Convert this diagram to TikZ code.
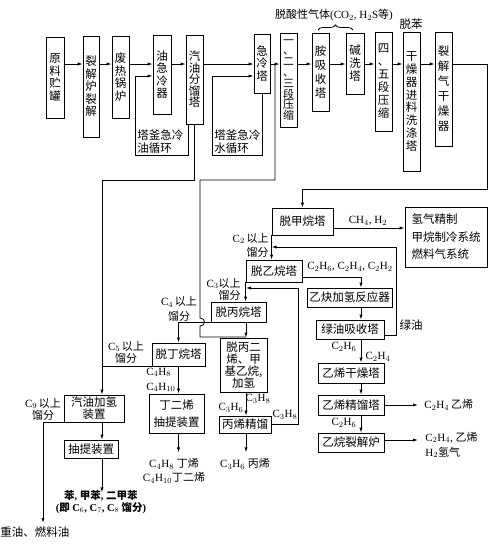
\documentclass[tikz,border=0pt]{standalone}
\usepackage{fontspec}
\setmainfont{Liberation Serif}
\newfontfamily\cjk{Noto Sans CJK SC}
\usetikzlibrary{arrows.meta,decorations.pathreplacing}
\newcommand\zh[1]{{\cjk #1}}
\begin{document}
\begin{tikzpicture}[x=1pt,y=-1pt,line width=0.8pt,
  every node/.style={inner sep=0pt, font=\cjk\fontsize{11.5}{12.5}\selectfont},
  box/.style={draw, align=center},
  lbl/.style={font=\fontsize{11}{12}\selectfont, align=center},
  arr/.style={-{Latex[length=5pt,width=3.2pt]}},
]
\fill[white] (0,0) rectangle (500,544);
\useasboundingbox (0,0) rectangle (500,544);

% coordinates
\coordinate (fl) at (0,64);
\coordinate (y76) at (0,76);
\coordinate (gx) at (102,0);
\coordinate (px) at (246,0);
\coordinate (ax) at (361,0);
\coordinate (br) at (275,64);

% top row
\node[box, minimum width=18, minimum height=81] (n1) at (55,77.5) {原\\料\\贮\\罐};
\node[box, minimum width=16, minimum height=101] (n2) at (91,86.5) {裂\\解\\炉\\裂\\解};
\node[box, minimum width=17, minimum height=82] (n3) at (120.5,77) {废\\热\\锅\\炉};
\node[box, minimum width=18, minimum height=79] (n4) at (162,74.5) {油\\急\\冷\\器};
\node[box, minimum width=17, minimum height=89, font=\cjk\fontsize{11.5}{11.5}\selectfont] (n5) at (194.5,79.5) {汽\\油\\分\\馏\\塔};
\node[box, minimum width=16, minimum height=59] (n6) at (262,63.5) {急\\冷\\塔};
\node[box, minimum width=17, minimum height=94, font=\cjk\fontsize{11}{10.8}\selectfont] (n7) at (288.5,80) {一\\、\\二\\、\\三\\段\\压\\缩};
\node[box, minimum width=17, minimum height=78, font=\cjk\fontsize{11.5}{14}\selectfont] (n8) at (320.5,72) {胺\\吸\\收\\塔};
\node[box, minimum width=18, minimum height=61, font=\cjk\fontsize{11.5}{13}\selectfont] (n9) at (355,63.5) {碱\\洗\\塔};
\node[box, minimum width=17, minimum height=99, font=\cjk\fontsize{11.5}{13}\selectfont] (n10) at (383.5,81.5) {四\\、\\五\\段\\压\\缩};
\node[box, minimum width=17, minimum height=139, font=\cjk\fontsize{11.5}{12.9}\selectfont] (n11) at (411.5,101.5) {干\\燥\\器\\进\\料\\洗\\涤\\塔};
\node[box, minimum width=17, minimum height=114, font=\cjk\fontsize{11.5}{15}\selectfont] (n12) at (443.5,89) {裂\\解\\气\\干\\燥\\器};

\foreach \a/\b in {n1/n2,n2/n3,n3/n4,n4/n5,n5/n6,n6/n7,n7/n8,n8/n9,n9/n10,n10/n11,n11/n12}
  \draw[arr] (\a.east |- fl) -- (\b.west |- fl);

% top labels
\node[lbl] (acid) at (334,15) {\zh{脱酸性气体}(CO$_2$, H$_2$S\zh{等})};
\draw[decorate, decoration={brace, amplitude=5pt}] (318,30) -- (353,30);
\node (dbz) at (411,24) {脱苯};

% loops
\draw[arr] ([xshift=-6.5]n5.south) |- (135,155) |- (n4.west |- y76);
\node[anchor=north west, align=left, font=\cjk\fontsize{11.5}{13}\selectfont] (oil) at (137,129) {塔釜急冷\\油循环};
\draw[arr] (n6.south) |- (212,155) |- (n6.west |- y76);
\node[anchor=north west, align=left, font=\cjk\fontsize{11.5}{13}\selectfont] (wat) at (214,129) {塔釜急冷\\水循环};

% lower boxes
\node[box, minimum width=61, minimum height=27] (m1) at (302.5,221.5) {脱甲烷塔};
\node[box, minimum width=82, minimum height=60, align=left, font=\cjk\fontsize{11.5}{17.5}\selectfont] (r1) at (446,237) {氢气精制\\甲烷制冷系统\\燃料气系统};
\node[box, minimum width=56, minimum height=22] (m2) at (274,271) {脱乙烷塔};
\node[box, minimum width=85, minimum height=19] (g1) at (349.5,297.5) {乙炔加氢反应器};
\node[box, minimum width=68, minimum height=19] (g2) at (350,329.5) {绿油吸收塔};
\node[box, minimum width=66, minimum height=20] (g3) at (351,373) {乙烯干燥塔};
\node[box, minimum width=66, minimum height=20] (g4) at (351,405) {乙烯精馏塔};
\node[box, minimum width=66, minimum height=19] (g5) at (351,442.5) {乙烷裂解炉};
\node[box, minimum width=55, minimum height=20] (p1) at (238.5,312) {脱丙烷塔};
\node[box, minimum width=47, minimum height=54, font=\cjk\fontsize{11.5}{12}\selectfont] (p2) at (243.5,365) {脱丙二\\烯、甲\\基乙烷,\\加氢};
\node[box, minimum width=52, minimum height=17] (p3) at (245,424.5) {丙烯精馏};
\node[box, minimum width=53, minimum height=23] (b1) at (178.5,354.5) {脱丁烷塔};
\node[box, minimum width=55, minimum height=39, font=\cjk\fontsize{11.5}{17}\selectfont] (b2) at (176.5,413.5) {丁二烯\\抽提装置};
\node[box, minimum width=60, minimum height=27, font=\cjk\fontsize{11.5}{12}\selectfont] (h1) at (94,408.5) {汽油加氢\\装置};
\node[box, minimum width=54, minimum height=18] (h2) at (91,449) {抽提装置};

% cracked gas to demethanizer
\draw[arr] (n12.east |- fl) -- (487,64) -- (487,189) -| (m1.north);
\draw[arr] (m1.east |- 0,228) -- (r1.west |- 0,228);
\node[lbl] (ch4) at (368,221) {CH$_4$, H$_2$};

% demethanizer -> deethanizer
\draw[arr] (m1.south west) -- (m1.south west |- m2.north);
\node[lbl, anchor=east, align=right, font=\fontsize{11}{14}\selectfont] (c2u) at (269,245) {C$_2$\,\zh{以上}\\\zh{馏分}};

% ethylene column chain
\draw[arr] ([yshift=-6]m2.east) -| (g1.north -| ax);
\node[lbl] (c2mix) at (350,267) {C$_2$H$_6$, C$_2$H$_4$, C$_2$H$_2$};
\draw[arr] (g1.south -| ax) -- (g2.north -| ax);
\draw[arr] ([yshift=-5.5]g2.east) -| (396,247) -- (m1.south west |- 0,247);
\node (lv) at (411,325) {绿油};
\draw[arr] (g2.south -| ax) -- (g3.north -| ax);
\node[lbl] (c2h6a) at (344,347) {C$_2$H$_6$};
\node[lbl] (c2h4a) at (378,357) {C$_2$H$_4$};
\draw[arr] (g3.south -| ax) -- (g4.north -| ax);
\draw[arr] (g4.south -| ax) -- (g5.north -| ax);
\node[lbl] (c2h6b) at (344,423) {C$_2$H$_6$};
\node[lbl, anchor=west] (t1) at (424,405) {C$_2$H$_4$\,\zh{乙烯}};
\draw[arr] (g4.east) -- ([xshift=-6]t1.west);
\node[lbl, anchor=west, align=left, font=\fontsize{11}{15}\selectfont] (t2) at (425,445) {C$_2$H$_4$, \zh{乙烯}\\H$_2$\zh{氢气}};
\draw[arr] ([yshift=2.5]g5.east) -- ([xshift=-7]t2.west |- 0,440);

% deethanizer -> depropanizer
\draw[arr] (m2.south west) -- (m2.south west |- p1.north);
\node[lbl, anchor=east, align=right, font=\fontsize{11}{12}\selectfont] (c3u) at (241,289) {C$_3$\zh{以上}\\\zh{馏分}};
\draw[arr] (p1.south -| px) -- (p2.north -| px);
\draw[arr] (p2.south -| px) -- (p3.north -| px);
\node[lbl] (c3h6a) at (231,408) {C$_3$H$_6$};
\node[lbl] (c3h8a) at (258,399) {C$_3$H$_8$};
\draw[arr] (p3.south -| px) -- ++(0,19);
\node[lbl] (c3out) at (245,464) {C$_3$H$_6$ \zh{丙烯}};
\draw[arr] (p3.east) -| (298,288) -- (px |- 0,288);
\node[lbl] (c3h8b) at (285,415) {C$_3$H$_8$};

% branch line from quench section
\draw (br) |- (200,180) -- (200,318) .. controls (206,318) and (206,326) .. (200,326) |- (px |- 0,337);

% depropanizer -> debutanizer
\draw[arr] (p1.south west) -| (b1.north);
\node[lbl, font=\fontsize{11}{15}\selectfont] (c4u) at (179,309) {C$_4$\,\zh{以上}\\\zh{馏分}};
\draw (b1.south west) -- (gx |- b1.south west);
\node[lbl] (c5u) at (126,352) {C$_5$\,\zh{以上}\\\zh{馏分}};
\draw[arr] (b1.south) -- (b1.south |- b2.north);
\node[lbl, anchor=west, align=left, font=\fontsize{11}{15}\selectfont] (c4mix) at (146,380) {C$_4$H$_8$\\C$_4$H$_{10}$};
\draw[arr] (b2.south -| b1.south) -- ++(0,19);
\node[lbl, font=\fontsize{11}{14}\selectfont] (c4out) at (174,471) {C$_4$H$_8$ \zh{丁烯}\\C$_4$H$_{10}$\zh{丁二烯}};

% gasoline line
\draw[arr] (n5.south) |- (102,180) -- (h1.north -| gx);
\node[lbl] (c9u) at (43,409) {C$_9$\,\zh{以上}\\\zh{馏分}};
\draw[arr] (h1.south west) -| (43,523);
\node (heavy) at (35,532) {重油、燃料油};
\draw[arr] (h1.south -| gx) -- (h2.north -| gx);
\draw[arr] (h2.south -| gx) -- ++(0,34);
\node[lbl, font=\bfseries\fontsize{10.5}{11.5}\selectfont] (btx) at (101,502) {\zh{苯}, \zh{甲苯}, \zh{二甲苯}\\(\zh{即} C$_6$, C$_7$, C$_8$ \zh{馏分})};
\end{tikzpicture}
\end{document}
